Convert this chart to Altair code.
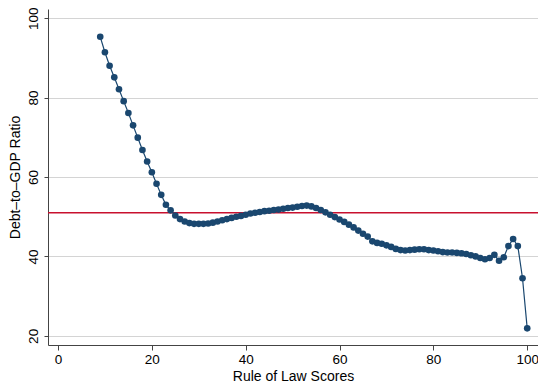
import altair as alt
import pandas as pd

rule_of_law = list(range(9, 101))
debt_ratio = [
    95.3, 91.4, 88.0, 85.1, 82.1, 79.1, 76.1, 73.0, 69.9, 66.8,
    63.9, 61.2, 58.3, 55.5, 53.0, 51.6, 50.3, 49.4, 48.8, 48.4,
    48.2, 48.2, 48.2, 48.3, 48.5, 48.8, 49.1, 49.4, 49.7, 50.0,
    50.2, 50.5, 50.8, 51.0, 51.2, 51.4, 51.5, 51.7, 51.8, 52.0,
    52.2, 52.3, 52.5, 52.7, 52.8, 52.6, 52.2, 51.7, 51.1, 50.5,
    49.9, 49.3, 48.7, 48.0, 47.3, 46.5, 45.7, 45.0, 43.8, 43.4,
    43.2, 42.8, 42.4, 41.9, 41.6, 41.5, 41.6, 41.7, 41.8, 41.8,
    41.6, 41.5, 41.3, 41.1, 41.0, 41.0, 40.9, 40.8, 40.6, 40.3,
    40.0, 39.6, 39.3, 39.6, 40.4, 38.9, 39.8, 42.6, 44.4, 42.6,
    34.5, 21.9,
]
reference_level = [51.0]
x_ticks = [0, 20, 40, 60, 80, 100]
y_ticks = [20, 40, 60, 80, 100]

df = pd.DataFrame({"x": rule_of_law, "y": debt_ratio})
ref = pd.DataFrame({"y": reference_level})

FONT = "Liberation Sans"
NAVY = "#1a476f"

xscale = alt.Scale(domain=[-2.13, 102.3], nice=False, zero=False)
yscale = alt.Scale(domain=[17.7, 102.3], nice=False, zero=False)

xaxis = alt.Axis(
    values=x_ticks, grid=False, title="Rule of Law Scores",
    labelFont=FONT, labelFontSize=13.5, labelColor="#000",
    labelPadding=2, tickSize=5, tickColor="#444", domainColor="#444",
    labelBaseline="top", labelAlign="center",
    titleFont=FONT, titleFontSize=14, titleFontWeight="normal", titleColor="#000",
    titleBaseline="alphabetic", titleY=35,
)
yaxis = alt.Axis(
    values=y_ticks, grid=True, gridColor="#d4d4d4", gridWidth=1,
    title="Debt\u2013to\u2013GDP Ratio",
    labelFont=FONT, labelFontSize=13.5, labelColor="#000",
    labelAngle=270, labelAlign="center", labelBaseline="alphabetic",
    labelPadding=6.5, tickSize=4, tickColor="#444", domainColor="#444",
    titleFont=FONT, titleFontSize=14, titleFontWeight="normal", titleColor="#000",
    titleAngle=270, titleAlign="center", titleBaseline="middle",
    titleX=-33, titleY=168,
)

base = alt.Chart(df)
line = base.mark_line(color=NAVY, strokeWidth=1.2).encode(
    x=alt.X("x:Q", scale=xscale, axis=xaxis),
    y=alt.Y("y:Q", scale=yscale, axis=yaxis),
)
pts = base.mark_circle(color=NAVY, opacity=1, size=44).encode(
    x=alt.X("x:Q", scale=xscale),
    y=alt.Y("y:Q", scale=yscale),
)
rule = alt.Chart(ref).mark_rule(color="#c8102e", strokeWidth=1.3).encode(
    y=alt.Y("y:Q", scale=yscale),
)

chart = alt.layer(rule, line, pts).properties(
    width=490, height=336,
    autosize=alt.AutoSizeParams(type="none"),
    padding={"left": 48, "top": 9, "right": 0, "bottom": 40},
    background="white",
).configure_view(stroke=None)

chart.save("out.html", embed_options={"renderer": "svg", "actions": False})
